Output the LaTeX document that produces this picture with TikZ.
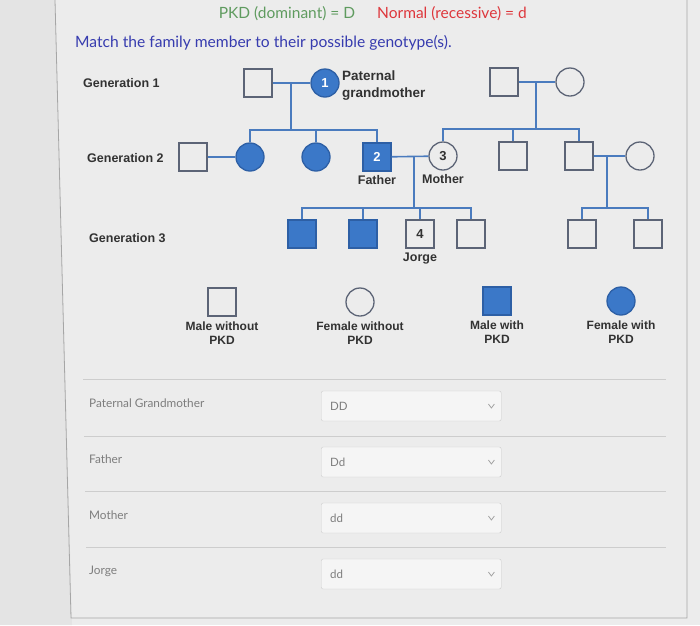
\documentclass[tikz,border=0pt]{standalone}
\usepackage{fontspec}
\setmainfont{Lato}
\newfontfamily\arialf{Liberation Sans}
\usetikzlibrary{positioning}
\definecolor{PB}{RGB}{59,120,200}
\definecolor{DB}{RGB}{45,95,165}
\definecolor{LN}{RGB}{74,123,190}
\definecolor{OL}{RGB}{92,100,118}
\definecolor{BG}{RGB}{236,236,236}
\definecolor{BGd}{RGB}{228,228,228}
\definecolor{TX}{RGB}{50,50,50}
\definecolor{FG}{RGB}{125,125,125}
\definecolor{TG}{RGB}{95,155,95}
\definecolor{TR}{RGB}{222,55,60}
\definecolor{TB}{RGB}{55,60,175}
\definecolor{SEP}{RGB}{205,205,205}

\begin{document}
\begin{tikzpicture}[x=1pt, y=-1pt,
  male/.style={draw=OL, fill=BG, rectangle, minimum size=28pt, inner sep=0pt,
               line width=1.3pt, font=\arialf\bfseries\fontsize{13}{13}\selectfont, text=TX},
  female/.style={male, circle},
  aff/.style={fill=PB, draw=DB, text=white},
  lnk/.style={draw=LN, line width=1.6pt},
  lbl/.style={font=\arialf\bfseries\fontsize{12.5}{16}\selectfont, text=TX, align=center},
  key/.style={font=\arialf\bfseries\fontsize{12}{14}\selectfont, text=TX, align=center},
  row/.style={font=\fontsize{11.8}{13}\selectfont, text=FG, anchor=west, inner sep=0pt},
  box/.style={draw=SEP, fill=BG!50!white, rounded corners=2pt, minimum width=180pt,
              minimum height=30pt, anchor=west, text width=162pt, align=left,
              inner xsep=9pt, font=\fontsize{11.5}{13}\selectfont, text=FG},
  sep/.style={draw=SEP, line width=0.8pt},
  chev/.style={draw=FG!70, line width=0.8pt}
]
\useasboundingbox (0,0) rectangle (700,625);
\fill[BG] (0,0) rectangle (700,625);
\fill[BGd] (0,0) -- (55,0) -- (72,625) -- (0,625) -- cycle;
\draw[draw=black!35, line width=0.8pt] (55,0) -- (71,618) -- (687,618) -- (687,0);

\node[text=TG, font=\fontsize{15.5}{17}\selectfont] (dom) at (287,14) {PKD (dominant) = D};
\node[text=TR, font=\fontsize{15.5}{17}\selectfont] (rec) at (452,14) {Normal (recessive) = d};
\node[text=TB, font=\fontsize{15.6}{17}\selectfont, anchor=west, inner sep=0pt] (ask) at (75,43)
  {Match the family member to their possible genotype(s).};

\node[lbl, anchor=west, inner sep=0pt] (gen1) at (83,83) {Generation 1};
\node[lbl, anchor=west, inner sep=0pt] (gen2) at (87,158) {Generation 2};
\node[lbl, anchor=west, inner sep=0pt] (gen3) at (89,238) {Generation 3};

\node[male]        (g1a) at (258,83) {};
\node[female, aff] (g1b) at (325,83) {1};
\node[male]        (g1c) at (504,82) {};
\node[female]      (g1d) at (570,82) {};

\node[male]        (g2a) at (193,157) {};
\node[female, aff] (g2b) at (250,157) {};
\node[female, aff] (g2c) at (316,157) {};
\node[male, aff]   (g2d) at (377,157) {2};
\node[female]      (g2e) at (443,156) {3};
\node[male]        (g2f) at (513,156) {};
\node[male]        (g2g) at (579,156) {};
\node[female]      (g2h) at (640,156) {};

\node[male, aff] (g3a) at (302,234) {};
\node[male, aff] (g3b) at (363,234) {};
\node[male]      (g3c) at (420,234) {4};
\node[male]      (g3d) at (471,234) {};
\node[male]      (g3e) at (582,234) {};
\node[male]      (g3f) at (648,234) {};

\node[lbl, anchor=west, align=left, inner sep=0pt, font=\arialf\bfseries\fontsize{13.5}{17}\selectfont]
  (pgm) at (342,86) {Paternal\\grandmother};
\node[lbl, below=4pt of g2d, inner sep=0pt] (fat) {Father};
\node[lbl, below=4pt of g2e, inner sep=0pt] (mot) {Mother};
\node[lbl, below=4pt of g3c, inner sep=0pt] (jor) {Jorge};

\coordinate (m1) at (291,83);  \coordinate (s1) at (291,130);
\coordinate (m2) at (536,82);  \coordinate (s2) at (536,129);
\coordinate (m3) at (414,156); \coordinate (s3) at (414,208);
\coordinate (m4) at (607,156); \coordinate (s4) at (607,208);

\draw[lnk] (g1a) -- (g1b);
\draw[lnk] (m1) -- (s1);
\draw[lnk] (g2b.north) |- (s1) -| (g2d.north);
\draw[lnk] (g2c.north) -- (g2c.north |- s1);
\draw[lnk] (g1c) -- (g1d);
\draw[lnk] (m2) -- (s2);
\draw[lnk] (g2e.north) |- (s2) -| (g2g.north);
\draw[lnk] (g2f.north) -- (g2f.north |- s2);
\draw[lnk] (g2a) -- (g2b);
\draw[lnk] (g2d) -- (g2e);
\draw[lnk] (m3) -- (s3);
\draw[lnk] (g3a.north) |- (s3) -| (g3d.north);
\draw[lnk] (g3b.north) -- (g3b.north |- s3);
\draw[lnk] (g3c.north) -- (g3c.north |- s3);
\draw[lnk] (g2g) -- (g2h);
\draw[lnk] (m4) -- (s4);
\draw[lnk] (g3e.north) |- (s4) -| (g3f.north);

\node[male]        (km)  at (222,302) {};
\node[female]      (kf)  at (360,302) {};
\node[male, aff]   (kma) at (497,301) {};
\node[female, aff] (kfa) at (621,301) {};
\node[key, below=5pt of km, inner sep=0pt]  {Male without\\PKD};
\node[key, below=5pt of kf, inner sep=0pt]  {Female without\\PKD};
\node[key, below=5pt of kma, inner sep=0pt] {Male with\\PKD};
\node[key, below=5pt of kfa, inner sep=0pt] {Female with\\PKD};

\draw[sep] (83,379) -- (666,379);
\draw[sep] (84,436) -- (666,436);
\draw[sep] (85,491) -- (666,491);
\draw[sep] (86,547) -- (666,547);

\node[row] (r1) at (89,403) {Paternal Grandmother};
\node[row] (r2) at (89,459) {Father};
\node[row] (r3) at (89,515) {Mother};
\node[row] (r4) at (89,571) {Jorge};

\node[box] (dd1) at (321,406) {DD};
\node[box] (dd2) at (321,462) {Dd};
\node[box] (dd3) at (321,518) {dd};
\node[box] (dd4) at (321,574) {dd};
\draw[chev] ([xshift=-10pt]dd1.east) ++(-3,-2) -- ++(3,4) -- ++(3,-4);
\draw[chev] ([xshift=-10pt]dd2.east) ++(-3,-2) -- ++(3,4) -- ++(3,-4);
\draw[chev] ([xshift=-10pt]dd3.east) ++(-3,-2) -- ++(3,4) -- ++(3,-4);
\draw[chev] ([xshift=-10pt]dd4.east) ++(-3,-2) -- ++(3,4) -- ++(3,-4);
\end{tikzpicture}
\end{document}
